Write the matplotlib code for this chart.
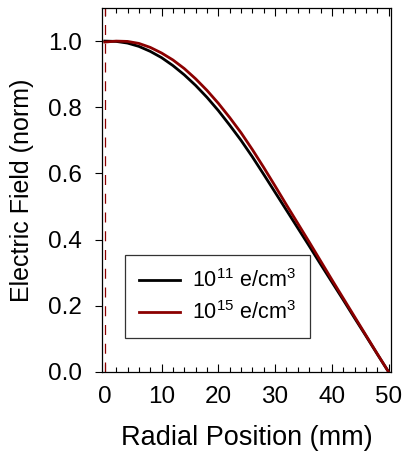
import numpy as np
import matplotlib
matplotlib.use("Agg")
import matplotlib.pyplot as plt
from matplotlib.ticker import MultipleLocator, FormatStrFormatter

plt.rcParams['font.family'] = ['Liberation Sans', 'DejaVu Sans']
plt.rcParams['mathtext.fontset'] = 'custom'
plt.rcParams['mathtext.rm'] = 'Liberation Sans'
plt.rcParams['mathtext.it'] = 'Liberation Sans'
plt.rcParams['mathtext.default'] = 'regular'

# radial position (mm) and normalised field
r_pos = [0, 2, 4, 6, 8, 10, 12, 14, 16, 18, 20, 22, 24, 26, 28, 30, 32, 34,
         36, 38, 40, 42, 44, 46, 48, 50]
e_low = [1.0, 0.999, 0.994, 0.984, 0.969, 0.950, 0.926, 0.898, 0.866, 0.830,
         0.790, 0.746, 0.700, 0.650, 0.597, 0.543, 0.489, 0.435, 0.381, 0.326,
         0.272, 0.218, 0.163, 0.109, 0.054, 0.0]
e_high = [0.997, 1.0, 0.999, 0.993, 0.981, 0.964, 0.943, 0.917, 0.886, 0.851,
          0.812, 0.769, 0.723, 0.672, 0.618, 0.562, 0.505, 0.449, 0.393, 0.336,
          0.279, 0.223, 0.167, 0.111, 0.055, 0.0]

labels = [r'10$^{11}$ e/cm$^{3}$', r'10$^{15}$ e/cm$^{3}$']
red = '#8b0000'

fig = plt.figure(figsize=(4.03, 4.57), dpi=100)
ax = fig.add_axes([0.253, 0.186, 0.717, 0.7965])

ax.axvline(0, color=red, lw=0.9, dashes=(8, 7))
ax.plot(r_pos, e_low, color='black', lw=2.0, label=labels[0])
ax.plot(r_pos, e_high, color=red, lw=2.0, label=labels[1])

ax.set_xlim(-0.5, 50.4)
ax.set_ylim(0, 1.1)
ax.xaxis.set_major_locator(MultipleLocator(10))
ax.xaxis.set_minor_locator(MultipleLocator(2))
ax.yaxis.set_major_locator(MultipleLocator(0.2))
ax.yaxis.set_major_formatter(FormatStrFormatter('%.1f'))

ax.tick_params(axis='x', which='both', direction='in', top=True, bottom=True,
               labelsize=17.5, pad=10)
ax.tick_params(axis='x', which='major', length=6, width=0.8)
ax.tick_params(axis='x', which='minor', length=3.5, width=0.8)
ax.tick_params(axis='y', which='major', direction='out', left=True, right=False,
               length=5, width=0.8, labelsize=17.5, pad=9.5)
for s in ax.spines.values():
    s.set_linewidth(0.9)

ax.set_xlabel('Radial Position (mm)', fontsize=19.5, labelpad=12)
ax.set_ylabel('Electric Field (norm)', fontsize=18, labelpad=10)

leg = ax.legend(loc='lower left', bbox_to_anchor=(0.08, 0.093), borderaxespad=0,
                fontsize=15.5, frameon=True, fancybox=False, edgecolor='black',
                handlelength=1.9, handletextpad=0.55, borderpad=0.65,
                handleheight=0.7, labelspacing=0.42)
leg.get_frame().set_linewidth(0.9)

fig.savefig('out.png', dpi=100)
